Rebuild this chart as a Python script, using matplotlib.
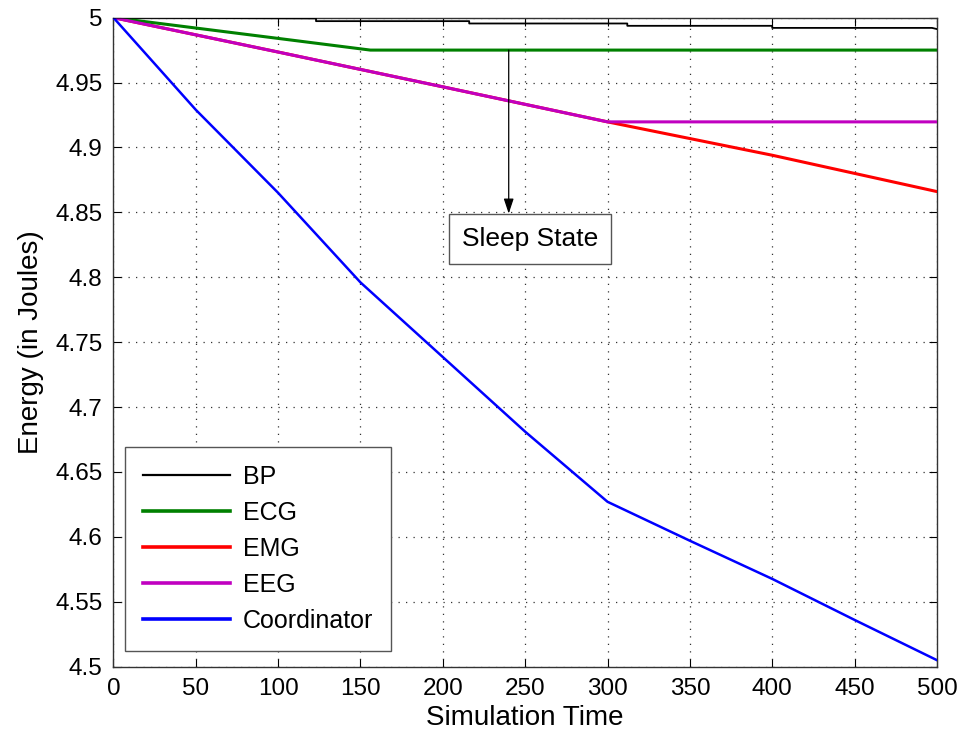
import matplotlib
matplotlib.use("Agg")
import matplotlib.pyplot as plt

plt.rcParams['font.family'] = ['Liberation Sans', 'DejaVu Sans']

# Data
bp_x = [0, 123, 123, 216, 216, 312, 312, 400, 400, 497, 500]
bp_y = [5.0, 4.9994, 4.9973, 4.9973, 4.9955, 4.9955, 4.9937, 4.9937, 4.9921, 4.9921, 4.9912]

ecg_x = [0, 50, 100, 156, 500]
ecg_y = [5.0, 4.992, 4.984, 4.975, 4.975]

emg_x = [0, 100, 200, 300, 400, 500]
emg_y = [5.0, 4.9735, 4.9467, 4.9197, 4.894, 4.866]

eeg_x = [0, 100, 200, 300, 500]
eeg_y = [5.0, 4.9735, 4.9467, 4.9197, 4.9197]

coord_x = [0, 50, 100, 150, 200, 250, 300, 350, 400, 450, 500]
coord_y = [5.0, 4.929, 4.865, 4.796, 4.7385, 4.681, 4.627, 4.597, 4.5676, 4.536, 4.505]

labels = ['BP', 'ECG', 'EMG', 'EEG', 'Coordinator']
xticks = list(range(0, 501, 50))
yticks = [4.5, 4.55, 4.6, 4.65, 4.7, 4.75, 4.8, 4.85, 4.9, 4.95, 5.0]
ytick_labels = ['4.5', '4.55', '4.6', '4.65', '4.7', '4.75', '4.8', '4.85', '4.9', '4.95', '5']

fig = plt.figure(figsize=(9.78, 7.35), dpi=100)
ax = fig.add_axes([0.116, 0.093, 0.842, 0.883])

ax.plot(bp_x, bp_y, color='black', lw=1.3, label=labels[0], zorder=5)
ax.plot(ecg_x, ecg_y, color='#008000', lw=2.2, label=labels[1], zorder=4)
ax.plot(emg_x, emg_y, color='#ff0000', lw=2.2, label=labels[2], zorder=3)
ax.plot(eeg_x, eeg_y, color='#c000c0', lw=2.2, label=labels[3], zorder=4)
ax.plot(coord_x, coord_y, color='#0000ff', lw=1.8, label=labels[4], zorder=4)

ax.set_xlim(0, 500)
ax.set_ylim(4.5, 5.0)
ax.set_xticks(xticks)
ax.set_xticklabels([str(t) for t in xticks])
ax.set_yticks(yticks)
ax.set_yticklabels(ytick_labels)
ax.tick_params(direction='in', length=6, width=0.8, top=True, right=True,
               labelsize=17.5)
ax.tick_params(axis='y', pad=8)
ax.tick_params(axis='x', pad=8)
ax.grid(True, color='#333333', linestyle=(0, (1, 5)), linewidth=0.9)
for s in ax.spines.values():
    s.set_linewidth(1.0)
    s.set_color('#333333')

ax.set_xlabel('Simulation Time', fontsize=20, labelpad=4)
ax.set_ylabel('Energy (in Joules)', fontsize=20, labelpad=8)

leg = ax.legend(loc='lower left', bbox_to_anchor=(0.014, 0.024), borderaxespad=0,
                fontsize=18, handlelength=3.5, handletextpad=0.5, labelspacing=0.48,
                borderpad=0.72, fancybox=False, framealpha=1, edgecolor='#555555')
leg.get_frame().set_linewidth(1.0)
for line in leg.get_lines():
    line.set_linewidth(2.6)
leg.get_lines()[0].set_linewidth(1.6)

ax.annotate('', xy=(240, 4.849), xytext=(240, 4.975),
            arrowprops=dict(arrowstyle='-|>,head_length=0.9,head_width=0.3',
                            color='black', lw=0.9, shrinkA=0, shrinkB=0), zorder=6)
ax.text(253, 4.8295, 'Sleep State', fontsize=19, ha='center', va='center',
        bbox=dict(boxstyle='square,pad=0.5', facecolor='white', edgecolor='#555555', lw=1.0),
        zorder=7)

fig.savefig('out.png', dpi=100)
